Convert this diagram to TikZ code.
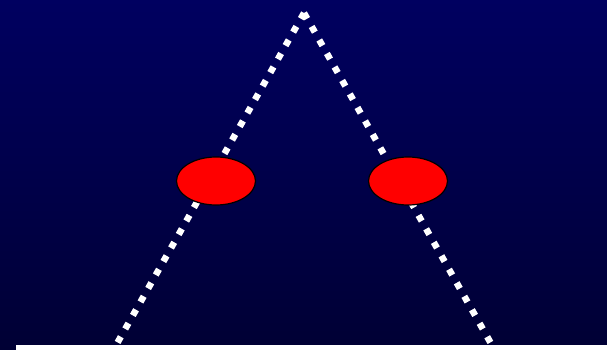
\documentclass[tikz,border=0pt]{standalone}
\usetikzlibrary{shapes.geometric}
\begin{document}
\begin{tikzpicture}[x=1pt,y=-1pt,
  dotline/.style={white,line width=6.5pt,dash pattern=on 6.5pt off 9pt},
  redball/.style={ellipse,draw=black,line width=1.2pt,fill=red,minimum width=79pt,minimum height=48pt,inner sep=0pt}]
\definecolor{bgtop}{RGB}{0,0,96}
\definecolor{bgbot}{RGB}{0,0,52}
\useasboundingbox (0,0) rectangle (607,350);
\shade[top color=bgtop,bottom color=bgbot] (0,0) rectangle (607,350);
\coordinate (apex) at (304,13);
\coordinate (bl) at (115,347);
\coordinate (br) at (493,347);
\draw[dotline] (apex) -- (bl);
\draw[dotline] (apex) -- (br);
\node[redball] (e1) at (216,181) {};
\node[redball] (e2) at (408,181) {};
\fill[white] (16,345) rectangle (607,350);
\end{tikzpicture}
\end{document}
